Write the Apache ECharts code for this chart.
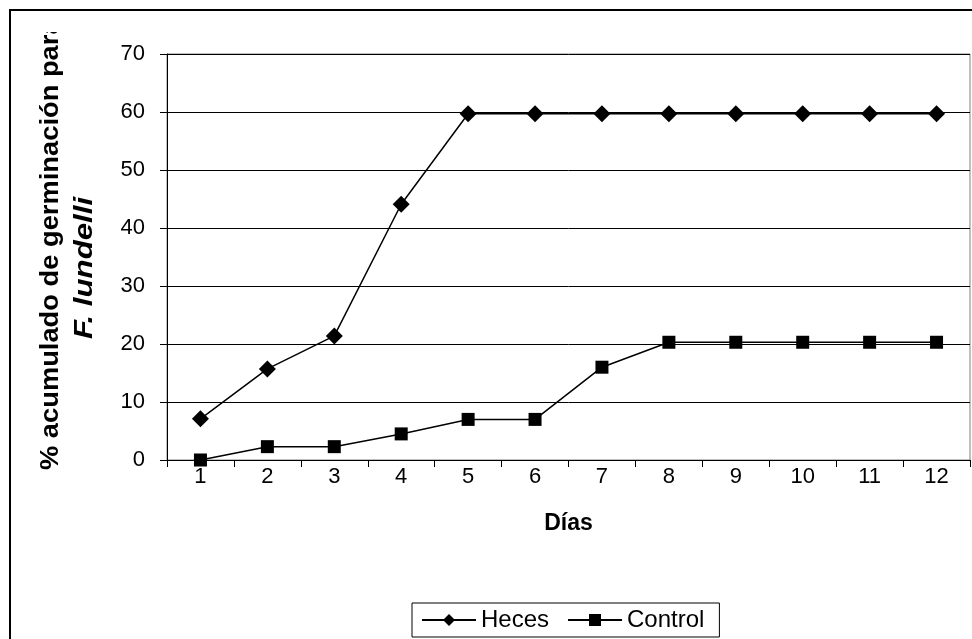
<!DOCTYPE html>
<html>
<head>
<meta charset="utf-8">
<script src="https://cdn.jsdelivr.net/npm/echarts@6/dist/echarts.min.js"></script>
<style>
html,body{margin:0;padding:0;background:#fff;}
#chart{width:972px;height:639px;}
</style>
</head>
<body>
<div id="chart"></div>
<script>
const dias = ['1','2','3','4','5','6','7','8','9','10','11','12'];
const heces = [7.1, 15.7, 21.4, 44.1, 59.7, 59.7, 59.7, 59.7, 59.7, 59.7, 59.7, 59.7];
const control = [0, 2.3, 2.3, 4.5, 7.0, 7.0, 16.0, 20.3, 20.3, 20.3, 20.3, 20.3];
const yTitle1 = '% acumulado de germinación para';
const yTitle2 = 'F. lundelli';
const xTitle = 'Días';

const FONT = '"Liberation Sans", Arial, sans-serif';
const chart = echarts.init(document.getElementById('chart'), null, {renderer: 'canvas'});
chart.setOption({
  backgroundColor: '#fff',
  animation: false,
  grid: {left: 167, right: 2, top: 54, bottom: 179, show: true, borderColor: '#808080', borderWidth: 1, backgroundColor: 'transparent'},
  xAxis: {
    type: 'category', data: dias, boundaryGap: true,
    name: xTitle, nameLocation: 'middle', nameGap: 52,
    nameTextStyle: {fontFamily: FONT, fontSize: 23, fontWeight: 'bold', color: '#000'},
    axisLine: {lineStyle: {color: '#000', width: 1}},
    axisTick: {show: true, alignWithLabel: false, inside: false, length: 7, lineStyle: {color: '#000'}},
    axisLabel: {fontFamily: FONT, fontSize: 22, color: '#000', margin: 6},
    splitLine: {show: false}
  },
  yAxis: {
    type: 'value', min: 0, max: 70, interval: 10,
    axisLine: {show: true, lineStyle: {color: '#000', width: 1}},
    axisTick: {show: true, inside: false, length: 7, lineStyle: {color: '#000'}},
    axisLabel: {fontFamily: FONT, fontSize: 22, color: '#000', margin: 22},
    splitLine: {show: true, lineStyle: {color: '#000', width: 1}}
  },
  legend: {
    left: 412, top: 603,
    borderColor: '#000', borderWidth: 1, borderRadius: 0,
    padding: [5, 15, 5, 9],
    itemWidth: 54, itemHeight: 15, itemGap: 18,
    textStyle: {fontFamily: FONT, fontSize: 24, color: '#000'},
    data: ['Heces', 'Control']
  },
  series: [
    {name: 'Heces', type: 'line', data: heces, symbol: 'diamond', symbolSize: 17,
     itemStyle: {color: '#000'}, lineStyle: {color: '#000', width: 1.5}, z: 5},
    {name: 'Control', type: 'line', data: control, symbol: 'rect', symbolSize: 13,
     itemStyle: {color: '#000'}, lineStyle: {color: '#000', width: 1.5}, z: 5}
  ],
  graphic: [
    {type: 'rect', shape: {x: 10, y: 10, width: 1100, height: 800}, style: {fill: 'none', stroke: '#000', lineWidth: 2}, z: 1, silent: true},
    {type: 'text', x: 51, y: 470, rotation: Math.PI/2, scaleX: 1.05,
     style: {text: yTitle1, fontFamily: FONT, fontSize: 26, fontWeight: 'bold', fill: '#000', textAlign: 'left', textVerticalAlign: 'middle'}, z: 10},
    {type: 'text', x: 85, y: 268, rotation: Math.PI/2, scaleX: 1.2,
     style: {text: yTitle2, fontFamily: FONT, fontSize: 26, fontWeight: 'bold', fontStyle: 'italic', fill: '#000', textAlign: 'center', textVerticalAlign: 'middle'}, z: 10},
    {type: 'rect', shape: {x: 20, y: 12, width: 55, height: 20}, style: {fill: '#fff'}, z: 20, silent: true}
  ]
});
</script>
</body>
</html>
